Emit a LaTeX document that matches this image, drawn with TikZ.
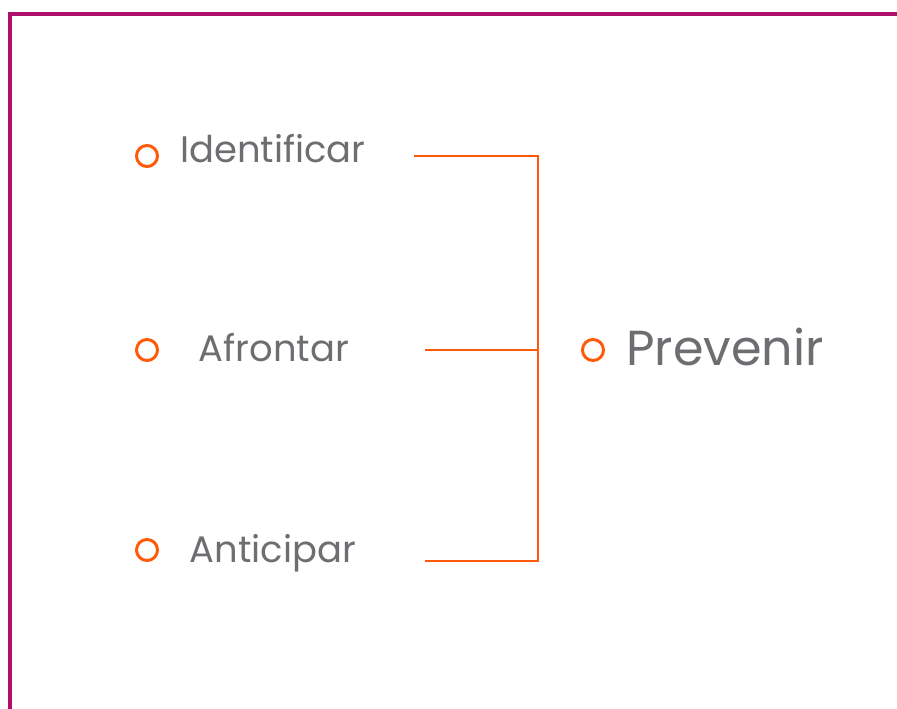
\documentclass[tikz,border=0pt]{standalone}
\usepackage{fontspec}
\setmainfont{Poppins}
\definecolor{rahmen}{HTML}{B0106A}
\definecolor{orangeline}{HTML}{FF5A0A}
\definecolor{grautext}{HTML}{6D6E71}
\begin{document}
\begin{tikzpicture}[
    punkt/.style={draw=orangeline, line width=1.7pt, circle, inner sep=0pt, minimum size=0.42cm},
    wort/.style={text=grautext, font=\fontsize{21}{25}\selectfont, anchor=base, inner sep=0pt},
    klammer/.style={draw=orangeline, line width=1.5pt}
]
    \useasboundingbox (0,0) rectangle (17.94,14.18);
    \draw[rahmen, line width=1.9pt] (17.94,13.9) -- (0.2,13.9) -- (0.2,0); % frame

    \node[punkt] (p1) at (2.94,11.06) {};
    \node[punkt] (p2) at (2.94,7.18) {};
    \node[punkt] (p3) at (2.94,3.18) {};
    \node[punkt] (p4) at (11.86,7.18) {};

    \node[wort] (identificar) at (5.46,10.92) {Identificar};
    \node[wort] (afrontar) at (5.48,6.94) {Afrontar};
    \node[wort] (anticipar) at (5.46,2.92) {Anticipar};
    \node[wort, font=\fontsize{28}{32}\selectfont] (prevenir) at (14.5,6.86) {Prevenir};

    \coordinate (a1) at (8.28,11.06);
    \coordinate (a2) at (8.5,7.18);
    \coordinate (a3) at (8.5,2.96);
    \coordinate (top) at (10.76,11.06);
    \coordinate (bot) at (10.76,2.96);

    \draw[klammer] (a1) -- (top) -- (bot) -- (a3); % bracket
    \draw[klammer] (a2) -- (a2 -| top);
\end{tikzpicture}
\end{document}
